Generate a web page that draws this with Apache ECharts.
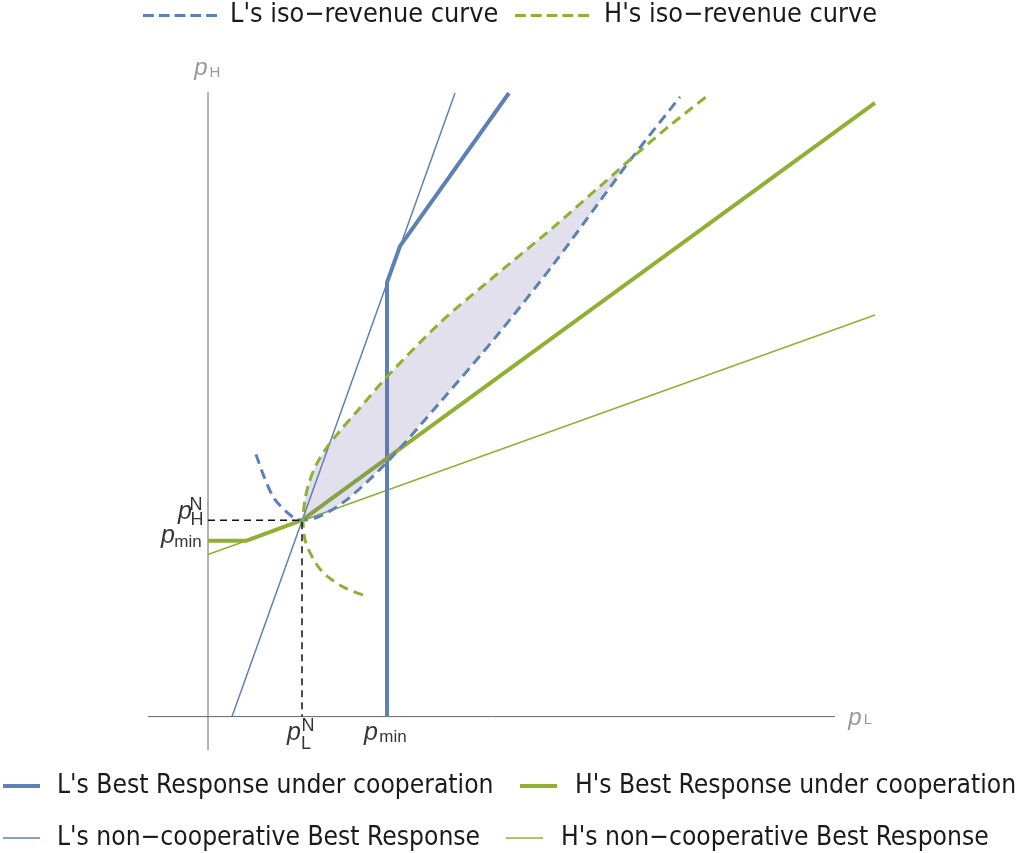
<!DOCTYPE html>
<html><head><meta charset="utf-8">
<script src="https://cdn.jsdelivr.net/npm/echarts@6/dist/echarts.min.js"></script>
<style>html,body{margin:0;padding:0;background:#fff}#c{width:1019px;height:853px}</style>
</head><body><div id="c"></div>
<script>
// ---- data ----
const pLN = 0.94, pHN = 2.0, pMin = 1.79;
const xRange = [-0.6, 6.67], yRange = [-0.34, 6.36];
const xAxisLine = [[-0.6, 0], [6.27, 0]];
const yAxisLine = [[0, -0.34], [0, 6.36]];
const lBRNonCoop = [[0.24, 0], [2.47, 6.35]];
const lBRCoop = [[1.79, 0], [1.79, 4.42], [1.92, 4.79], [3.01, 6.35]];
const hBRNonCoop = [[0, 1.65], [6.67, 4.09]];
const hBRCoop = [[0, 1.79], [0.38, 1.79], [0.94, 2.0], [6.67, 6.25]];
const crossPoint = [4.24, 5.69];
const isoL = [[0.48, 2.67], [0.65, 2.24], [0.85, 2.03], [0.95, 2.0], [1.12, 2.04], [1.39, 2.21], [1.79, 2.59],
  [2.32, 3.20], [2.89, 3.88], [3.45, 4.60], [3.92, 5.25], [4.24, 5.69], [4.72, 6.31]];
const isoH = [[1.55, 1.24], [1.37, 1.31], [1.19, 1.43], [1.10, 1.53], [1.02, 1.67], [0.97, 1.80], [0.95, 2.0],
  [0.97, 2.21], [1.01, 2.38], [1.08, 2.56], [1.18, 2.73], [1.32, 2.91], [1.50, 3.12], [1.79, 3.46],
  [2.32, 4.01], [2.79, 4.42], [3.45, 4.98], [3.92, 5.40], [4.24, 5.69], [4.62, 6.02], [4.98, 6.31]];
const guide = [[0, pHN], [pLN, pHN], [pLN, 0]];
const names = {
  isoL: "L's iso\u2212revenue curve", isoH: "H's iso\u2212revenue curve",
  lCoop: "L's Best Response under cooperation", hCoop: "H's Best Response under cooperation",
  lNon: "L's non\u2212cooperative Best Response", hNon: "H's non\u2212cooperative Best Response"
};

// ---- styles ----
const BLUE = '#5e81b5', GREEN = '#8fb032';
const FONT = "'Liberation Sans Narrow','DejaVu Sans Condensed','Liberation Sans',sans-serif";
const MFONT = "'Liberation Sans',Arial,sans-serif";
const DASH_ICON = 'path://M0,0h11v3h-11zM16,0h11v3h-11zM32,0h11v3h-11zM48,0h11v3h-11zM64,0h11v3h-11z';
const THICK_ICON = 'path://M0,0h37v4h-37z';
const THIN_ICON = 'path://M0,0h37v1.5h-37z';

// shaded region: upper boundary = H's curve, lower = L's curve, from N to the crossing
const upper = isoH.filter(p => p[1] >= pHN && p[0] <= crossPoint[0]);
const lower = isoL.filter(p => p[0] >= pLN && p[0] <= crossPoint[0]).reverse();
const region = upper.concat(lower);

function lab(pt, text, size, dx, dy, italic, color) {
  return {
    value: pt,
    label: {
      show: true, position: 'inside', formatter: text, fontSize: size,
      fontStyle: italic ? 'italic' : 'normal', fontFamily: MFONT,
      color: color || '#000', offset: [dx, dy]
    }
  };
}
const labels = [
  lab([pLN, 0], 'p', 25, -8, 16, true), lab([pLN, 0], 'N', 18, 6, 9, false), lab([pLN, 0], 'L', 18, 4, 27, false),
  lab([pMin, 0], 'p', 25, -16, 16, true), lab([pMin, 0], 'min', 17, 6, 21, false),
  lab([0, pHN], 'p', 25, -23, -8, true), lab([0, pHN], 'N', 18, -12, -15, false), lab([0, pHN], 'H', 18, -11, 0, false),
  lab([0, pMin], 'p', 25, -40, -5, true), lab([0, pMin], 'min', 17, -20, 1, false),
  lab(yAxisLine[1], 'p', 24, -7, -24, true, '#808080'), lab(yAxisLine[1], 'H', 15, 7, -19, false, '#808080'),
  lab(xAxisLine[1], 'p', 24, 20, 2, true, '#808080'), lab(xAxisLine[1], 'L', 15, 33, 3, false, '#808080')
];

function line(name, data, color, width, type, z) {
  return { type: 'line', name, data, symbol: 'none', smooth: false, z: z || 2,
    lineStyle: { color, width, type: type || 'solid' }, itemStyle: { color }, emphasis: { disabled: true } };
}

const chart = echarts.init(document.getElementById('c'), null, { renderer: 'canvas' });
function legend(name, icon, left, top, w, h, fs, pad) {
  return { data: [name], icon, left, top, itemWidth: w, itemHeight: h, selectedMode: false,
    textStyle: { fontFamily: FONT, fontSize: fs, color: '#1a1a1a', padding: [0, 0, 0, pad] } };
}
chart.setOption({
  animation: false,
  grid: { left: 148, right: 144, top: 92, bottom: 103 },
  xAxis: { type: 'value', min: xRange[0], max: xRange[1], show: false },
  yAxis: { type: 'value', min: yRange[0], max: yRange[1], show: false },
  legend: [
    legend(names.isoL, DASH_ICON, 138, -3, 74, 3, 26.8, 8),
    legend(names.isoH, DASH_ICON, 510, -3, 74, 3, 26.8, 10),
    legend(names.lCoop, THICK_ICON, -2, 768, 37, 4, 26.2, 12),
    legend(names.hCoop, THICK_ICON, 515, 768, 37, 4, 26.2, 13),
    legend(names.lNon, THIN_ICON, -2, 820, 37, 1.5, 26.2, 12),
    legend(names.hNon, THIN_ICON, 501, 820, 37, 1.5, 26.2, 13)
  ],
  series: [
    line('xaxis', xAxisLine, '#666', 1),
    line('yaxis', yAxisLine, '#666', 1),
    line(names.lNon, lBRNonCoop, BLUE, 1.5),
    line(names.hNon, hBRNonCoop, GREEN, 1.5),
    line(names.lCoop, lBRCoop, BLUE, 4),
    line(names.hCoop, hBRCoop, GREEN, 4),
    {
      type: 'custom', name: 'region', silent: true, z: 3, data: [[pLN, pHN]],
      renderItem: (params, api) => ({
        type: 'polygon',
        shape: { points: region.map(p => api.coord(p)) },
        style: { fill: 'rgba(115,100,170,0.2)' }
      })
    },
    Object.assign(line(names.isoL, isoL, BLUE, 3, [10, 6], 4), { smooth: 0.3 }),
    Object.assign(line(names.isoH, isoH, GREEN, 3, [10, 6], 4), { smooth: 0.3 }),
    line('guide', guide, '#111', 1.5, [7, 5], 4),
    { type: 'scatter', name: 'labels', z: 6, symbolSize: 1, itemStyle: { color: 'rgba(0,0,0,0)' }, silent: true, data: labels }
  ]
});
</script></body></html>
